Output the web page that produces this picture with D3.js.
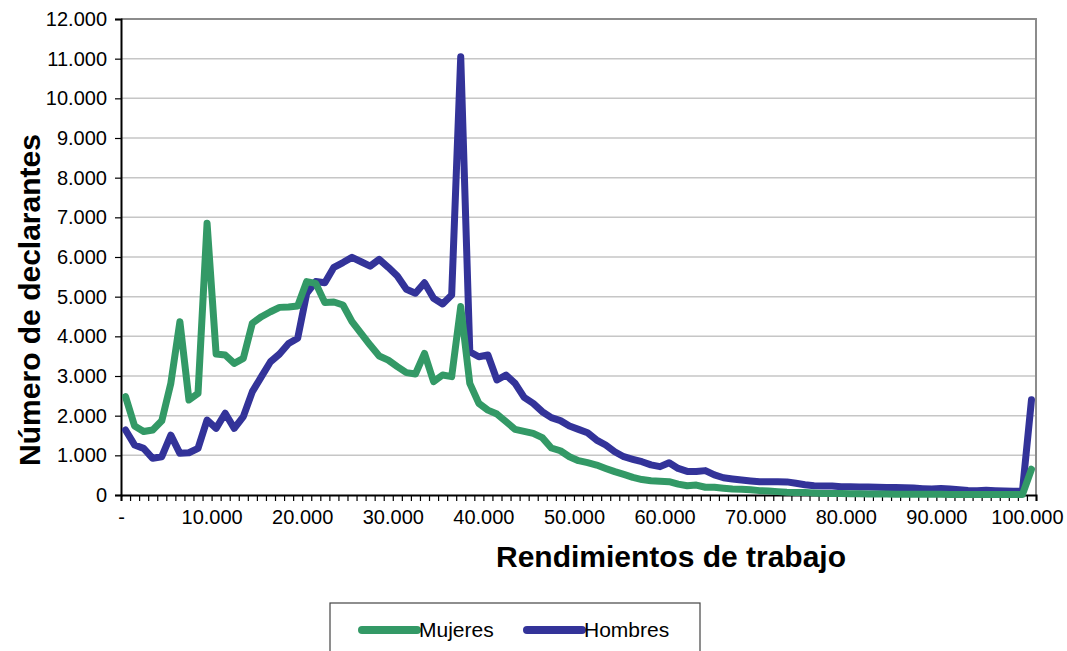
<!DOCTYPE html>
<html>
<head>
<meta charset="utf-8">
<script src="https://cdn.jsdelivr.net/npm/d3@7"></script>
<style>
  body { margin: 0; background: #fff; }
  svg { font-family: "Liberation Sans", Arial, sans-serif; }
</style>
</head>
<body>
<svg id="chart1" width="1067" height="651"></svg>
<script>
// categorías: rendimientos de trabajo en miles (0 .. 100)
var categories = d3.range(0, 101);

var mujeres = [
  2480, 1740, 1600, 1640, 1870, 2815, 4370, 2395, 2560, 6850,
  3555, 3530, 3320, 3445, 4330, 4495, 4620, 4730, 4740, 4765,
  5380, 5335, 4850, 4865, 4790, 4370, 4075, 3780, 3505, 3400,
  3235, 3085, 3050, 3570, 2860, 3025, 2985, 4750, 2815, 2310,
  2140, 2040, 1850, 1655, 1605, 1555, 1445, 1185, 1115, 965,
  865, 815, 755, 670, 590, 520, 445, 390, 360, 345,
  335, 275, 235, 250, 195, 195, 170, 150, 145, 130,
  110, 100, 85, 70, 65, 60, 50, 40, 35, 35,
  30, 30, 28, 25, 25, 22, 20, 20, 18, 18,
  16, 15, 15, 14, 13, 12, 12, 11, 10, 10,
  650
];

var hombres = [
  1640, 1260, 1175, 925, 965, 1510, 1050, 1065, 1175, 1890,
  1680, 2060, 1680, 1975, 2605, 2985, 3360, 3555, 3820, 3950,
  5085, 5380, 5350, 5740, 5860, 5990, 5880, 5770, 5940, 5740,
  5520, 5185, 5085, 5350, 4960, 4815, 5040, 11050, 3610, 3485,
  3530, 2900, 3025, 2815, 2460, 2310, 2100, 1950, 1875, 1740,
  1655, 1570, 1385, 1260, 1090, 965, 900, 840, 760, 715,
  815, 670, 595, 590, 615, 505, 435, 405, 380, 355,
  335, 335, 335, 330, 295, 260, 235, 225, 225, 210,
  205, 200, 200, 195, 190, 190, 185, 175, 160, 150,
  165, 150, 130, 115, 110, 120, 110, 100, 95, 95,
  2400
];

var xTickLabels = ["-", "10.000", "20.000", "30.000", "40.000", "50.000",
                   "60.000", "70.000", "80.000", "90.000", "100.000"];

var seriesNames = ["Mujeres", "Hombres"];
var seriesColors = ["#339966", "#333399"];

var plotLeft = 121, plotRight = 1036, plotTop = 19, plotBottom = 495;

var svg = d3.select("svg#chart1");

// escala de los límites entre categorías
var xb = d3.scaleLinear().domain([0, categories.length]).range([plotLeft, plotRight]);
var y = d3.scaleLinear().domain([0, 12000]).range([plotBottom, plotTop]);

var es = d3.formatLocale({decimal: ",", thousands: ".", grouping: [3], currency: ["", ""]});
var fmt = es.format(",");

// líneas de cuadrícula
svg.append("g")
  .selectAll("line").data(d3.range(1000, 12000, 1000))
  .enter().append("line")
  .attr("x1", plotLeft).attr("x2", plotRight)
  .attr("y1", d => y(d)).attr("y2", d => y(d))
  .attr("stroke", "#c6c6c6")
  .attr("stroke-width", 1.5);

// borde superior y derecho
svg.append("path")
  .attr("d", "M" + plotLeft + "," + y(12000) + "H" + plotRight + "V" + plotBottom)
  .attr("fill", "none")
  .attr("stroke", "#8c8c8c")
  .attr("stroke-width", 2);

// eje Y
var yAxis = svg.append("g")
  .attr("transform", "translate(" + plotLeft + ",0)")
  .call(d3.axisLeft(y).tickValues(d3.range(0, 12001, 1000)).tickSize(6).tickPadding(8).tickFormat(fmt));

// eje X: marcas en cada límite, etiquetas cada 10
var xAxis = svg.append("g")
  .attr("transform", "translate(0," + plotBottom + ")")
  .call(d3.axisBottom(xb).tickValues(d3.range(0, categories.length + 1)).tickSize(6).tickPadding(9)
    .tickFormat(k => (k % 10 == 0 && k / 10 < xTickLabels.length) ? xTickLabels[k / 10] : ""));

[yAxis, xAxis].forEach(g => {
  g.select(".domain").attr("stroke", "#000").attr("stroke-width", 2);
  g.selectAll(".tick line").attr("stroke", "#000").attr("stroke-width", 1.2);
  g.selectAll(".tick text").attr("fill", "#000").style("font-size", "20px")
    .style("font-family", "'Liberation Sans', Arial, sans-serif");
});

// series (Mujeres encima)
var line = d3.line()
  .x((d, i) => xb(categories[i] + 0.5))
  .y(d => y(d));

var series = [hombres, mujeres];
var colors = [seriesColors[1], seriesColors[0]];

svg.append("g")
  .selectAll("path").data(series)
  .enter().append("path")
  .attr("d", d => line(d))
  .attr("fill", "none")
  .attr("stroke", (d, i) => colors[i])
  .attr("stroke-width", 7)
  .attr("stroke-linejoin", "round")
  .attr("stroke-linecap", "round");

// títulos de ejes
svg.append("text")
  .attr("x", 671).attr("y", 567)
  .attr("text-anchor", "middle")
  .style("font-size", "30px").style("font-weight", "bold")
  .text("Rendimientos de trabajo");

svg.append("text")
  .attr("transform", "translate(40,300) rotate(-90)")
  .attr("text-anchor", "middle")
  .style("font-size", "30px").style("font-weight", "bold")
  .text("Número de declarantes");

// leyenda
var legend = svg.append("g");
legend.append("rect")
  .attr("x", 330).attr("y", 603)
  .attr("width", 370).attr("height", 70)
  .attr("fill", "#fff")
  .attr("stroke", "#444")
  .attr("stroke-width", 1.2);

var legendX = [362, 527];
var items = legend.selectAll("g.item").data(seriesNames)
  .enter().append("g").attr("class", "item")
  .attr("transform", (d, i) => "translate(" + legendX[i] + ",630)");

items.append("line")
  .attr("x1", 0).attr("x2", 55)
  .attr("stroke", (d, i) => seriesColors[i])
  .attr("stroke-width", 8)
  .attr("stroke-linecap", "round");

items.append("text")
  .attr("x", 57).attr("y", 7)
  .style("font-size", "21px")
  .text(d => d);
</script>
</body>
</html>
